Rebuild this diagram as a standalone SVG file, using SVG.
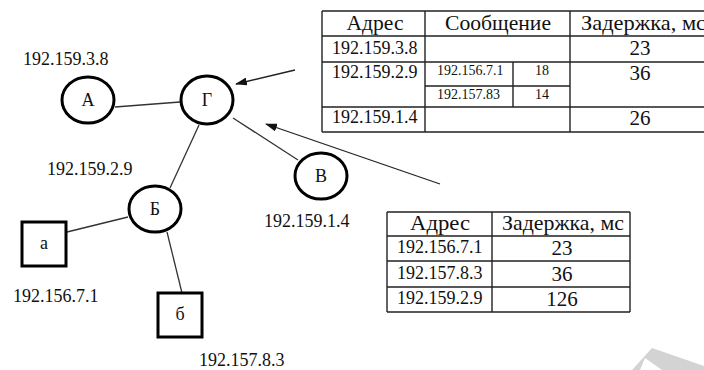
<svg xmlns="http://www.w3.org/2000/svg" width="704" height="370" viewBox="0 0 704 370">
<defs>
<style>
text{font-family:"Liberation Serif","Times New Roman",serif;fill:#111}
.n{font-size:18px;text-anchor:middle}
.ip{font-size:18px}
.th{font-size:21px;text-anchor:middle}
.ths{font-size:21px;text-anchor:start}
.td{font-size:18px}
.tv{font-size:21px;text-anchor:middle}
.ts{font-size:14px}
.tsc{font-size:14px;text-anchor:middle}
.node{fill:#fff;stroke:#000;stroke-width:3}
.edge{stroke:#333;stroke-width:1.3;fill:none}
.arrow{stroke:#222;stroke-width:1.3;fill:none;marker-end:url(#ah)}
.grid{stroke:#222;stroke-width:1.4;fill:none}
</style>
<marker id="ah" viewBox="0 0 12 8" refX="11" refY="4" markerWidth="12" markerHeight="8" markerUnits="userSpaceOnUse" orient="auto">
<path d="M0,0 L12,4 L0,8 Z" fill="#111"/>
</marker>
</defs>
<rect width="704" height="370" fill="#fff"/>
<polygon points="632,370 652,348 704,366 704,370 662,370 645,358 640,370" fill="#d3d3d3"/>
<g id="connectors">
<line class="edge" x1="115" y1="107" x2="180" y2="102"/>
<line class="edge" x1="199" y1="125" x2="170" y2="188"/>
<line class="edge" x1="233" y1="118" x2="298" y2="160"/>
<line class="edge" x1="128" y1="217" x2="67" y2="232"/>
<line class="edge" x1="167" y1="232" x2="182" y2="293"/>
<line class="arrow" x1="295" y1="70" x2="236" y2="84"/>
<line class="arrow" x1="440" y1="184" x2="266" y2="124"/>
</g>
<g id="node-A"><ellipse class="node" cx="88" cy="100" rx="26" ry="23"/><text class="n" x="88" y="106">А</text></g>
<g id="node-G"><ellipse class="node" cx="207" cy="100" rx="26" ry="24"/><text class="n" x="207" y="106">Г</text></g>
<g id="node-B"><ellipse class="node" cx="155" cy="209" rx="26" ry="23"/><text class="n" x="155" y="215">Б</text></g>
<g id="node-V"><ellipse class="node" cx="321" cy="176" rx="26" ry="23"/><text class="n" x="321" y="182">В</text></g>
<g id="node-a"><rect class="node" x="22" y="222" width="44" height="44"/><text class="n" x="44" y="249">а</text></g>
<g id="node-b"><rect class="node" x="158" y="293" width="44" height="44"/><text class="n" x="180" y="320">б</text></g>
<g id="labels">
<text class="ip" x="23" y="65">192.159.3.8</text>
<text class="ip" x="47" y="175">192.159.2.9</text>
<text class="ip" x="264" y="227">192.159.1.4</text>
<text class="ip" x="13" y="302">192.156.7.1</text>
<text class="ip" x="199" y="366">192.157.8.3</text>
</g>
<g id="table-top">
<path class="grid" d="M322,11 H704 M322,36 H704 M322,62 H704 M425,86 H570 M322,107 H704 M322,132 H704 M322,11 V132 M425,11 V132 M513,62 V107 M570,11 V132"/>
<text class="th" x="375" y="30" textLength="57" lengthAdjust="spacingAndGlyphs">Адрес</text>
<text class="th" x="498" y="30" textLength="106" lengthAdjust="spacingAndGlyphs">Сообщение</text>
<text class="ths" x="581" y="30" textLength="125" lengthAdjust="spacingAndGlyphs">Задержка, мс</text>
<text class="td" x="332" y="54">192.159.3.8</text>
<text class="tv" x="640" y="55">23</text>
<text class="td" x="332" y="78">192.159.2.9</text>
<text class="ts" x="437" y="75">192.156.7.1</text>
<text class="tsc" x="542" y="75">18</text>
<text class="ts" x="437" y="99">192.157.83</text>
<text class="tsc" x="542" y="99">14</text>
<text class="tv" x="640" y="80">36</text>
<text class="td" x="332" y="123">192.159.1.4</text>
<text class="tv" x="640" y="125">26</text>
</g>
<g id="table-bottom">
<path class="grid" d="M387,212 H630 M387,236 H630 M387,261 H630 M387,287 H630 M387,312 H630 M387,212 V312 M492,212 V312 M630,212 V312"/>
<text class="th" x="440" y="230" textLength="60" lengthAdjust="spacingAndGlyphs">Адрес</text>
<text class="th" x="563" y="230" textLength="122" lengthAdjust="spacingAndGlyphs">Задержка, мс</text>
<text class="td" x="397" y="253">192.156.7.1</text>
<text class="td" x="397" y="279">192.157.8.3</text>
<text class="td" x="397" y="304">192.159.2.9</text>
<text class="tv" x="562" y="255">23</text>
<text class="tv" x="562" y="281">36</text>
<text class="tv" x="562" y="306">126</text>
</g>
</svg>
